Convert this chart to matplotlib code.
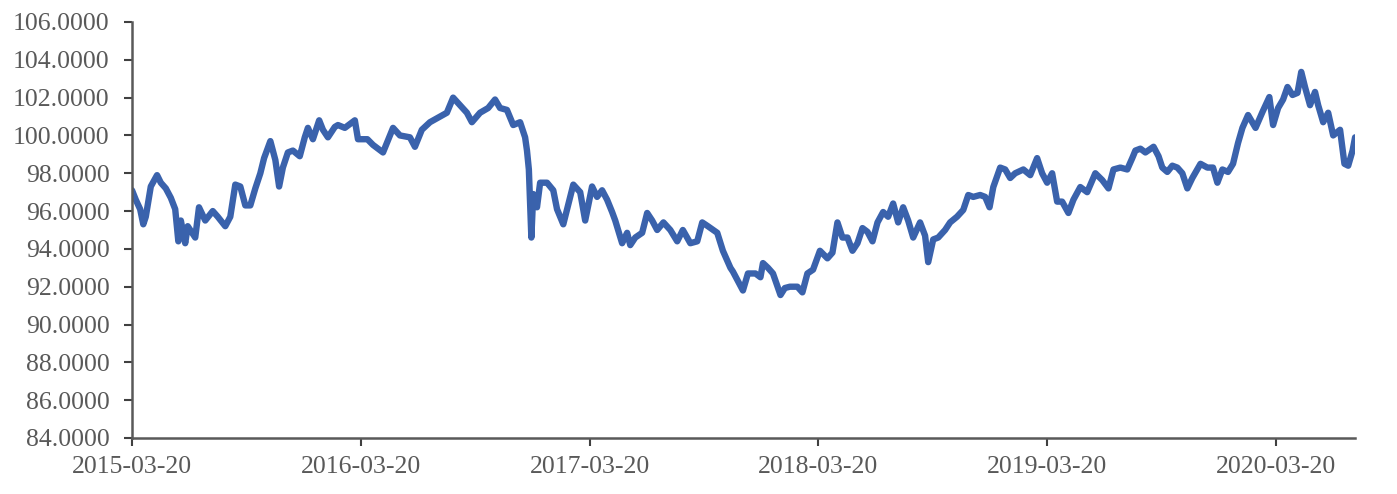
import matplotlib
matplotlib.use('Agg')
import matplotlib.pyplot as plt
import matplotlib.dates as mdates
from matplotlib.ticker import FormatStrFormatter
import pandas as pd

# values
dates = [
    '2015-03-20', '2015-03-26', '2015-04-02', '2015-04-07', '2015-04-11', '2015-04-19',
    '2015-04-29', '2015-05-05', '2015-05-13', '2015-05-21', '2015-05-28', '2015-06-02',
    '2015-06-06', '2015-06-13', '2015-06-17', '2015-06-29', '2015-07-05', '2015-07-15',
    '2015-07-27', '2015-08-04', '2015-08-16', '2015-08-24', '2015-09-01', '2015-09-09',
    '2015-09-17', '2015-09-25', '2015-10-03', '2015-10-11', '2015-10-17', '2015-10-27',
    '2015-11-04', '2015-11-10', '2015-11-16', '2015-11-24', '2015-12-02', '2015-12-13',
    '2015-12-21', '2015-12-26', '2016-01-03', '2016-01-13', '2016-01-19', '2016-01-27',
    '2016-02-07', '2016-02-12', '2016-02-23', '2016-03-10', '2016-03-15', '2016-03-30',
    '2016-04-08', '2016-04-24', '2016-05-10', '2016-05-21', '2016-06-06', '2016-06-14',
    '2016-06-25', '2016-07-08', '2016-07-24', '2016-08-04', '2016-08-14', '2016-08-25',
    '2016-09-05', '2016-09-13', '2016-09-26', '2016-10-09', '2016-10-20', '2016-10-28',
    '2016-11-08', '2016-11-18', '2016-11-29', '2016-12-07', '2016-12-10', '2016-12-13',
    '2016-12-15', '2016-12-17', '2016-12-20', '2016-12-26', '2016-12-31', '2017-01-11',
    '2017-01-21', '2017-01-27', '2017-02-06', '2017-02-22', '2017-03-05', '2017-03-13',
    '2017-03-24', '2017-04-01', '2017-04-09', '2017-04-17', '2017-04-25', '2017-04-30',
    '2017-05-11', '2017-05-19', '2017-05-24', '2017-06-01', '2017-06-12', '2017-06-20',
    '2017-06-28', '2017-07-06', '2017-07-16', '2017-07-27', '2017-08-07', '2017-08-16',
    '2017-08-28', '2017-09-08', '2017-09-16', '2017-09-25', '2017-10-10', '2017-10-19',
    '2017-10-31', '2017-11-04', '2017-11-12', '2017-11-20', '2017-11-28', '2017-12-10',
    '2017-12-18', '2017-12-22', '2017-12-30', '2018-01-07', '2018-01-19', '2018-01-26',
    '2018-02-03', '2018-02-15', '2018-02-23', '2018-03-03', '2018-03-12', '2018-03-23',
    '2018-04-04', '2018-04-12', '2018-04-20', '2018-04-28', '2018-05-06', '2018-05-14',
    '2018-05-22', '2018-05-30', '2018-06-07', '2018-06-15', '2018-06-23', '2018-07-02',
    '2018-07-10', '2018-07-18', '2018-07-26', '2018-08-03', '2018-08-11', '2018-08-19',
    '2018-08-30', '2018-09-07', '2018-09-12', '2018-09-20', '2018-09-28', '2018-10-09',
    '2018-10-17', '2018-10-28', '2018-11-07', '2018-11-15', '2018-11-23', '2018-12-04',
    '2018-12-12', '2018-12-19', '2018-12-25', '2019-01-05', '2019-01-13', '2019-01-21',
    '2019-01-29', '2019-02-11', '2019-02-22', '2019-03-05', '2019-03-13', '2019-03-21',
    '2019-03-29', '2019-04-06', '2019-04-14', '2019-04-24', '2019-05-02', '2019-05-13',
    '2019-05-24', '2019-06-06', '2019-06-17', '2019-06-27', '2019-07-05', '2019-07-16',
    '2019-07-27', '2019-08-04', '2019-08-09', '2019-08-17', '2019-08-25', '2019-09-07',
    '2019-09-15', '2019-09-21', '2019-09-29', '2019-10-07', '2019-10-15', '2019-10-23',
    '2019-10-31', '2019-11-08', '2019-11-21', '2019-12-02', '2019-12-11', '2019-12-18',
    '2019-12-26', '2020-01-04', '2020-01-12', '2020-01-20', '2020-01-27', '2020-02-05',
    '2020-02-17', '2020-02-28', '2020-03-10', '2020-03-16', '2020-03-24', '2020-04-01',
    '2020-04-08', '2020-04-16', '2020-04-24', '2020-04-30', '2020-05-06', '2020-05-14',
    '2020-05-22', '2020-05-27', '2020-06-04', '2020-06-12', '2020-06-20', '2020-07-01',
    '2020-07-08', '2020-07-14', '2020-07-21', '2020-07-25',
]
values = [
    97.1, 96.6, 96.1, 95.3, 95.7, 97.3,
    97.9, 97.5, 97.2, 96.7, 96.1, 94.4,
    95.5, 94.3, 95.2, 94.6, 96.2, 95.5,
    96.0, 95.7, 95.2, 95.7, 97.4, 97.3,
    96.3, 96.3, 97.2, 98.0, 98.8, 99.7,
    98.7, 97.3, 98.3, 99.1, 99.2, 98.9,
    99.9, 100.4, 99.8, 100.8, 100.3, 99.9,
    100.45, 100.55, 100.4, 100.8, 99.8, 99.8,
    99.5, 99.1, 100.4, 100.0, 99.9, 99.4,
    100.3, 100.7, 101.0, 101.2, 102.0, 101.6,
    101.2, 100.7, 101.2, 101.45, 101.9, 101.45,
    101.35, 100.55, 100.7, 99.9, 99.2, 98.2,
    96.4, 94.6, 96.9, 96.2, 97.5, 97.5,
    97.1, 96.1, 95.3, 97.4, 97.0, 95.5,
    97.3, 96.75, 97.1, 96.6, 95.95, 95.5,
    94.3, 94.85, 94.2, 94.6, 94.85, 95.9,
    95.5, 95.0, 95.4, 95.0, 94.4, 95.0,
    94.3, 94.4, 95.4, 95.2, 94.85, 93.9,
    93.0, 92.8, 92.3, 91.8, 92.7, 92.7,
    92.5, 93.25, 93.0, 92.7, 91.56, 91.93,
    92.0, 92.0, 91.7, 92.7, 92.9, 93.9,
    93.5, 93.8, 95.4, 94.6, 94.6, 93.9,
    94.3, 95.1, 94.9, 94.4, 95.4, 95.95,
    95.7, 96.4, 95.4, 96.2, 95.5, 94.6,
    95.4, 94.7, 93.3, 94.5, 94.6, 95.0,
    95.4, 95.7, 96.06, 96.85, 96.75, 96.85,
    96.75, 96.2, 97.27, 98.3, 98.2, 97.75,
    98.0, 98.2, 97.9, 98.8, 98.0, 97.5,
    98.0, 96.5, 96.5, 95.9, 96.6, 97.27,
    97.0, 98.0, 97.64, 97.2, 98.2, 98.3,
    98.2, 98.8, 99.2, 99.3, 99.1, 99.4,
    98.9, 98.3, 98.07, 98.4, 98.3, 98.0,
    97.2, 97.75, 98.5, 98.3, 98.3, 97.5,
    98.2, 98.07, 98.5, 99.6, 100.4, 101.08,
    100.4, 101.24, 102.03, 100.55, 101.45, 101.9,
    102.56, 102.14, 102.25, 103.36, 102.56, 101.6,
    102.3, 101.6, 100.7, 101.2, 100.0, 100.3,
    98.5, 98.4, 99.2, 99.9,
]
xtick_dates = ['2015-03-20', '2016-03-20', '2017-03-20', '2018-03-20', '2019-03-20', '2020-03-20']

plt.rcParams['font.family'] = ['Liberation Serif', 'DejaVu Serif']

x = pd.to_datetime(dates)
xt = pd.to_datetime(xtick_dates)

fig = plt.figure(figsize=(13.97, 4.94), dpi=100)
ax = fig.add_axes([0.0945, 0.1134, 0.8755, 0.8421])

ax.plot(x, values, color='#3A62AC', lw=4.6, solid_joinstyle='round', solid_capstyle='round')

ax.set_ylim(84, 106)
ax.set_yticks(range(84, 107, 2))
ax.yaxis.set_major_formatter(FormatStrFormatter('%.4f'))
ax.set_xlim(x[0], x[-1])
ax.set_xticks(xt)
ax.xaxis.set_major_formatter(mdates.DateFormatter('%Y-%m-%d'))

for s in ['top', 'right']:
    ax.spines[s].set_visible(False)
for s in ['left', 'bottom']:
    ax.spines[s].set_color('#595959')
    ax.spines[s].set_linewidth(1.8)

ax.tick_params(axis='both', direction='out', length=6, width=1.5, color='#404040',
               labelsize=18.5, labelcolor='#595959')
ax.tick_params(axis='y', pad=10)
ax.tick_params(axis='x', pad=7)

fig.savefig('out.png', dpi=100)
